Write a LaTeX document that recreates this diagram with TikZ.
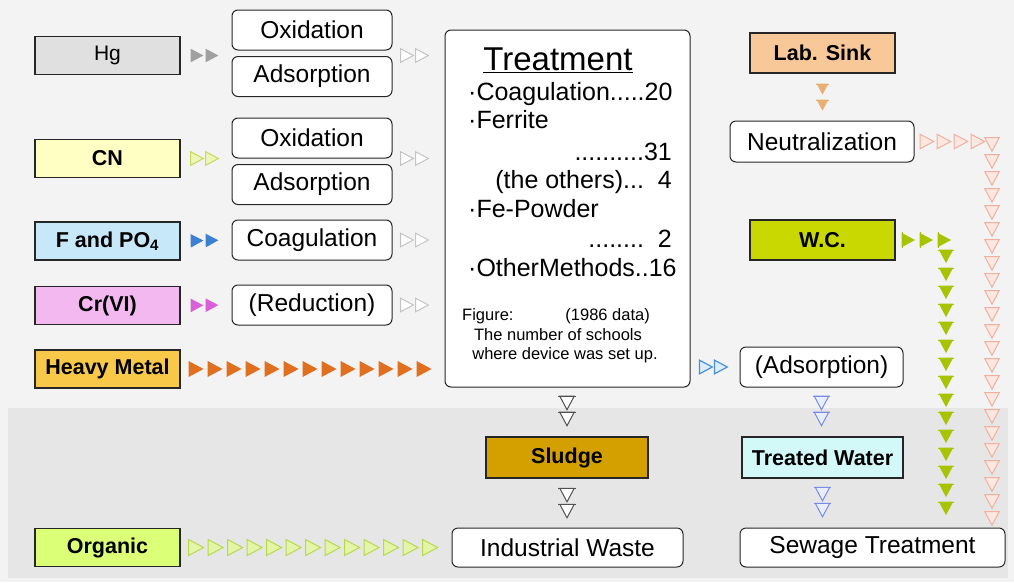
\documentclass[tikz,border=0pt]{standalone}
\usepackage{fontspec}
\setmainfont{Liberation Sans}
\usetikzlibrary{decorations.markings}

% palette
\definecolor{bgc}{HTML}{F3F3F3}
\definecolor{bandc}{HTML}{E6E6E6}
\definecolor{hgc}{HTML}{E0E0E0}
\definecolor{cnc}{HTML}{FFFFC4}
\definecolor{fpoc}{HTML}{C6E8F8}
\definecolor{crc}{HTML}{F4B8F0}
\definecolor{hmc}{HTML}{F8C848}
\definecolor{orgc}{HTML}{DCFF78}
\definecolor{sludgec}{HTML}{D4A000}
\definecolor{labc}{HTML}{F8C898}
\definecolor{wcc}{HTML}{C8D800}
\definecolor{twc}{HTML}{D2F8F8}

% one arrow head of a chain, drawn in the marking's own frame
\newcommand\tri[1]{\path[#1] (-7pt,-8pt) -- (8pt,0pt) -- (-7pt,8pt) -- cycle;}
\newcommand\trib[1]{\path[#1] (-7pt,-8pt) -- (8pt,0pt) -- (-7pt,8pt) -- cycle;
  \path[#1,fill=none] (-7pt,-9.5pt) -- (-7pt,9.5pt);}

\tikzset{
  box/.style={draw=black!85, line width=1.2pt, minimum width=145pt,
    minimum height=38pt, inner sep=0pt, font=\fontsize{21.5}{23}\selectfont\bfseries},
  wbox/.style={draw=black!85, line width=1pt, rounded corners=6pt, fill=white,
    inner sep=0pt, minimum height=40pt, font=\fontsize{24.5}{26}\selectfont},
  tchain/.style args={#1:#2:#3:#4}{postaction={decorate},
    decoration={markings, mark=between positions #1 and #2 step #3 with {\tri{#4}}}},
  bchain/.style args={#1:#2:#3:#4}{postaction={decorate},
    decoration={markings, mark=between positions #1 and #2 step #3 with {\trib{#4}}}},
  hgArr/.style={fill={rgb,255:red,160;green,160;blue,160}, draw=none, scale=0.85},
  cnArr/.style={draw={rgb,255:red,200;green,216;blue,88}, fill={rgb,255:red,238;green,246;blue,184}, line width=1pt, scale=0.85},
  fpoArr/.style={fill={rgb,255:red,61;green,127;blue,208}, draw=none, scale=0.85},
  crArr/.style={fill={rgb,255:red,216;green,96;blue,216}, draw=none, scale=0.85},
  hmArr/.style={fill={rgb,255:red,224;green,112;blue,32}, draw=none},
  orgArr/.style={draw={rgb,255:red,184;green,216;blue,80}, fill={rgb,255:red,228;green,244;blue,168}, line width=1pt},
  midArr/.style={draw={rgb,255:red,196;green,196;blue,196}, fill=white, line width=1pt, scale=0.85},
  adsArr/.style={draw={rgb,255:red,74;green,144;blue,224}, fill={rgb,255:red,221;green,238;blue,250}, line width=1.2pt, scale=0.85},
  slArr/.style={draw={rgb,255:red,80;green,80;blue,80}, fill=white, line width=1pt, scale=0.9},
  labArr/.style={fill={rgb,255:red,232;green,176;blue,112}, draw={rgb,255:red,232;green,176;blue,112}, line width=0.8pt, scale=0.65},
  neArr/.style={draw={rgb,255:red,240;green,176;blue,160}, fill={rgb,255:red,252;green,232;blue,224}, line width=1pt, scale=0.9},
  wcArr/.style={fill={rgb,255:red,168;green,196;blue,0}, draw={rgb,255:red,168;green,196;blue,0}, line width=1pt, scale=0.8},
  twArr/.style={draw={rgb,255:red,120;green,140;blue,230}, fill={rgb,255:red,232;green,238;blue,252}, line width=1pt, scale=0.9},
  tline/.style={inner sep=0pt, font=\fontsize{25}{27}\selectfont},
  cline/.style={inner sep=0pt, font=\fontsize{16.5}{18}\selectfont},
}

\begin{document}
\begin{tikzpicture}[x=1pt,y=-1pt]
\useasboundingbox (0,0) rectangle (1014,582);
\fill[bgc] (0,0) rectangle (1014,582);
\fill[bandc] (8,408) rectangle (1008,578);

% sources
\node[box, fill=hgc, font=\fontsize{21}{23}\selectfont] (hg) at (107.5,55.5) {Hg};
\node[box, fill=cnc] (cn) at (107.5,158.5) {CN};
\node[box, fill=fpoc] (fpo) at (107.5,241) {F and PO\textsubscript{4}};
\node[box, fill=crc] (cr) at (107.5,305.5) {Cr(VI)};
\node[box, fill=hmc] (hm) at (107.5,369) {Heavy Metal};
\node[box, fill=orgc] (org) at (107.5,547.5) {Organic};

% pretreatment steps
\node[wbox, minimum width=160pt] (ox1) at (312,30) {Oxidation};
\node[wbox, minimum width=160pt] (ad1) at (312,76.5) {Adsorption};
\node[wbox, minimum width=160pt] (ox2) at (312,138) {Oxidation};
\node[wbox, minimum width=160pt] (ad2) at (312,184.5) {Adsorption};
\node[wbox, minimum width=160pt] (coag) at (312,240) {Coagulation};
\node[wbox, minimum width=160pt] (red) at (312,305) {(Reduction)};

% treatment summary
\node[wbox, minimum width=245pt, minimum height=357pt] (treat) at (567.5,208.5) {};
\node[inner sep=0pt, anchor=base, font=\fontsize{33}{35}\selectfont] (t0) at (558,70) {\underline{Treatment}};
\node[tline, anchor=base west] (t1) at (468,100) {·Coagulation.....20};
\node[tline, anchor=base west] (t2) at (468,128) {·Ferrite};
\node[tline, anchor=base east] (t3) at (672,160) {..........31};
\node[tline, anchor=base east] (t4) at (672,188) {(the others)...\ \ 4};
\node[tline, anchor=base west] (t5) at (468,217) {·Fe-Powder};
\node[tline, anchor=base east] (t6) at (672,247) {........\ \ 2};
\node[tline, anchor=base west] (t7) at (468,276) {·OtherMethods..16};
\node[cline, anchor=base west] (c1t) at (462,320) {Figure:};
\node[cline, anchor=base east] (c2t) at (650,320) {(1986 data)};
\node[cline, anchor=base] (c3t) at (558,340) {The number of schools};
\node[cline, anchor=base] (c4t) at (565,359) {where device was set up.};

% outputs
\node[box, fill=sludgec, minimum width=162pt, minimum height=41pt] (sludge) at (567,457.5) {Sludge};
\node[wbox, minimum width=231pt, minimum height=39pt] (iw) at (567.5,547.5) {Industrial Waste};
\node[box, fill=labc, minimum height=40pt] (lab) at (822.5,53) {Lab. Sink};
\node[wbox, minimum width=184pt, minimum height=41pt] (neut) at (822,141.5) {Neutralization};
\node[box, fill=wcc, minimum height=40pt] (wc) at (822.5,240) {W.C.};
\node[wbox, minimum width=163pt] (ads3) at (821.5,367) {(Adsorption)};
\node[box, fill=twc, minimum width=161pt, minimum height=41pt] (tw) at (822.5,457.5) {Treated Water};
\node[wbox, minimum width=265pt, minimum height=39pt] (sew) at (872.5,547.5) {Sewage Treatment};

\coordinate (k1) at (992,141.5);
\coordinate (k2) at (946,240);

% flows
\path[tchain={16pt:-18pt:15pt:hgArr}] (hg.east) -- (hg.east -| ox1.west);
\path[tchain={16pt:-18pt:15pt:cnArr}] (cn.east) -- (cn.east -| ox2.west);
\path[tchain={16pt:-18pt:15pt:fpoArr}] (fpo.east) -- (coag.west);
\path[tchain={16pt:-18pt:15pt:crArr}] (cr.east) -- (red.west);
\path[tchain={15pt:-8pt:19pt:hmArr}] (hm.east) -- (hm.east -| treat.west);
\path[tchain={15pt:-12pt:19.5pt:orgArr}] (org.east) -- (iw.west);

\path[tchain={14pt:-16pt:15pt:midArr}] (hg.east -| ox1.east) -- (hg.east -| treat.west);
\path[tchain={14pt:-16pt:15pt:midArr}] (cn.east -| ox2.east) -- (cn.east -| treat.west);
\path[tchain={14pt:-16pt:15pt:midArr}] (coag.east) -- (coag.east -| treat.west);
\path[tchain={14pt:-16pt:15pt:midArr}] (red.east) -- (red.east -| treat.west);

\path[tchain={15pt:-14pt:15pt:adsArr}] (ads3.west -| treat.east) -- (ads3.west);
\path[bchain={15pt:-14pt:16pt:slArr}] (sludge.north |- treat.south) -- (sludge.north);
\path[bchain={16pt:-14pt:16pt:slArr}] (sludge.south) -- (sludge.south |- iw.north);
\path[bchain={15pt:-12pt:16pt:labArr}] (lab.south) -- (lab.south |- neut.north);
\path[bchain={15pt:-14pt:16pt:twArr}] (ads3.south) -- (ads3.south |- tw.north);
\path[bchain={15pt:-14pt:16pt:twArr}] (tw.south) -- (tw.south |- sew.north);

\path[tchain={12pt:-8pt:17pt:neArr}] (neut.east) -- (k1) -- (k1 |- sew.north);
\path[bchain={12pt:-8pt:18pt:wcArr}] (wc.east) -- (k2) -- (k2 |- sew.north);
\end{tikzpicture}
\end{document}
